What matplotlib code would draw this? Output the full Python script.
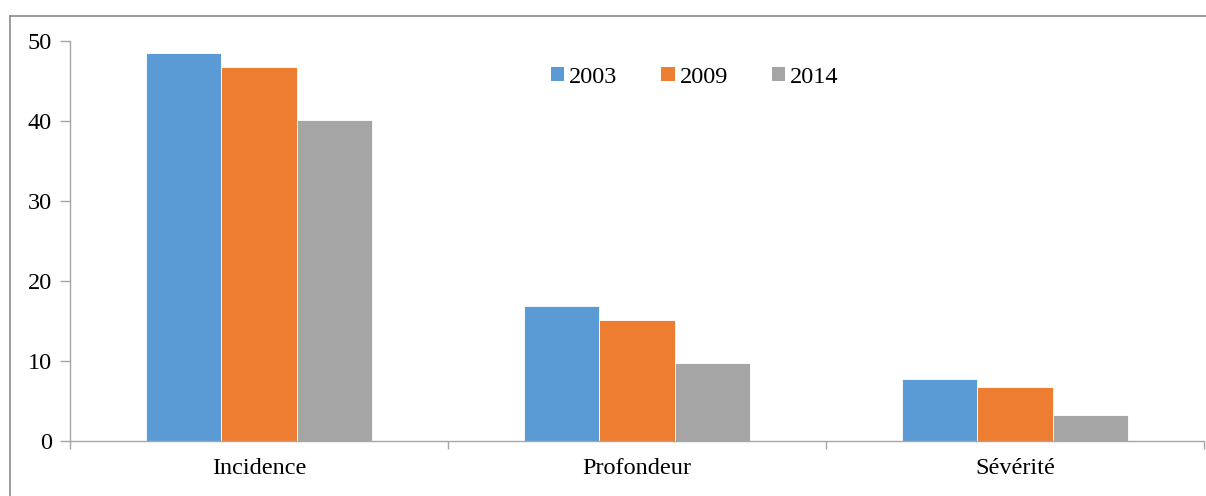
import matplotlib
matplotlib.use("Agg")
import matplotlib.pyplot as plt
from matplotlib.lines import Line2D
from matplotlib.patches import Patch
import numpy as np

categories = ["Incidence", "Profondeur", "Sévérité"]
years = ["2003", "2009", "2014"]
v2003 = [48.5, 16.9, 7.8]
v2009 = [46.7, 15.1, 6.75]
v2014 = [40.1, 9.75, 3.3]
colors = ["#5B9BD5", "#ED7D31", "#A5A5A5"]
yticks = [0, 10, 20, 30, 40, 50]

plt.rcParams['font.family'] = ['Liberation Serif', 'DejaVu Serif']
FS = 17.5

fig = plt.figure(figsize=(12.06, 4.96), dpi=100)
ax = fig.add_axes([70/1206, 55/496, 1134/1206, 400/496])

x = np.arange(len(categories))
w = 0.2
series = [v2003, v2009, v2014]
for i, (vals, c) in enumerate(zip(series, colors)):
    ax.bar(x + (i - 1) * w, vals, width=w, color=c, edgecolor="white", linewidth=0.6, label=years[i])

ax.set_xlim(-0.5, len(categories) - 0.5)
ax.set_ylim(0, 50)
ax.set_yticks(yticks)
ax.set_xticks(x)
ax.set_xticklabels(categories, fontsize=FS)
ax.set_xticks(np.arange(len(categories) + 1) - 0.5, minor=True)
ax.tick_params(axis='x', which='major', length=0, pad=12)
ax.tick_params(axis='x', which='minor', length=6, color="#A6A6A6", width=1)
ax.tick_params(axis='y', length=7, color="#A6A6A6", width=1, labelsize=FS, pad=6)

for s in ["top", "right"]:
    ax.spines[s].set_visible(False)
for s in ["left", "bottom"]:
    ax.spines[s].set_color("#A6A6A6")
    ax.spines[s].set_linewidth(1)

handles = [Patch(facecolor=c, edgecolor="none") for c in colors]
leg = ax.legend(handles, years, loc="center", bbox_to_anchor=(0.551, 0.91), ncol=3,
                frameon=False, fontsize=FS, handlelength=0.55, handleheight=0.55,
                handletextpad=0.2, columnspacing=1.8)

# outer chart border (top and left visible)
fig.add_artist(Line2D([10/1206, 1.0], [1 - 16/496, 1 - 16/496], transform=fig.transFigure,
                      color="#8C8C8C", linewidth=1.2))
fig.add_artist(Line2D([10/1206, 10/1206], [0, 1 - 16/496], transform=fig.transFigure,
                      color="#8C8C8C", linewidth=1.2))

fig.savefig("out.png", dpi=100)
